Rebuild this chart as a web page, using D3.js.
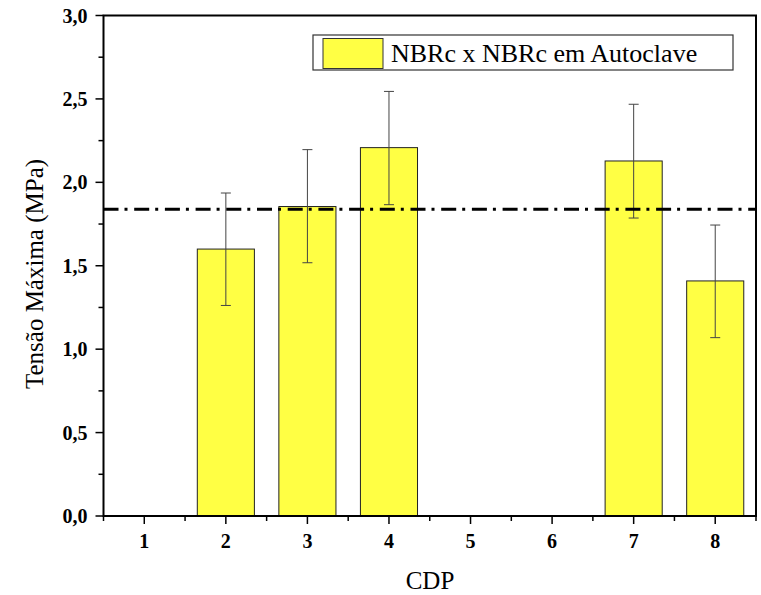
<!DOCTYPE html>
<html><head><meta charset="utf-8">
<script src="https://cdn.jsdelivr.net/npm/d3@7"></script>
<style>body{margin:0;background:#fff}svg{display:block}
text{font-family:"Times New Roman","Liberation Serif","DejaVu Serif",serif}</style>
</head><body>
<script>
const categories = [1,2,3,4,5,6,7,8];
const cdp = [2,3,4,7,8];
const values = [1.60,1.855,2.208,2.128,1.409];
const errLow = [1.262,1.518,1.866,1.786,1.069];
const errHigh = [1.936,2.196,2.545,2.468,1.744];
const refValue = 1.838;
const yTicks = [0,0.5,1.0,1.5,2.0,2.5,3.0];
const seriesName = "NBRc x NBRc em Autoclave";

const W=761,H=595;
const m={l:103.5,r:756,t:15.5,b:516};
const svg=d3.select("body").append("svg").attr("width",W).attr("height",H);
const x=d3.scaleLinear().domain([0.5,8.5]).range([m.l,m.r]);
const y=d3.scaleLinear().domain([0,3]).range([m.b,m.t]);
const bw = x(0.7)-x(0);

// bars
const g=svg.append("g");
cdp.forEach((c,i)=>{
  g.append("rect").attr("x",x(c)-bw/2).attr("y",y(values[i]))
   .attr("width",bw).attr("height",y(0)-y(values[i]))
   .attr("fill","#ffff44").attr("stroke","#222").attr("stroke-width",1);
});
// error bars
cdp.forEach((c,i)=>{
  const e=g.append("g").attr("stroke","#444").attr("stroke-width",1);
  e.append("line").attr("x1",x(c)).attr("x2",x(c)).attr("y1",y(errLow[i])).attr("y2",y(errHigh[i]));
  e.append("line").attr("x1",x(c)-5).attr("x2",x(c)+5).attr("y1",y(errLow[i])).attr("y2",y(errLow[i]));
  e.append("line").attr("x1",x(c)-5).attr("x2",x(c)+5).attr("y1",y(errHigh[i])).attr("y2",y(errHigh[i]));
});
// reference line
svg.append("line").attr("x1",m.l).attr("x2",m.r).attr("y1",y(refValue)).attr("y2",y(refValue))
  .attr("stroke","#000").attr("stroke-width",3).attr("stroke-dasharray","15,6,3,6.7");

// frame
svg.append("rect").attr("x",m.l).attr("y",m.t).attr("width",m.r-m.l).attr("height",m.b-m.t)
  .attr("fill","none").attr("stroke","#000").attr("stroke-width",2);

// y axis
const yMinor=d3.range(0.25,3,0.5);
const ya=svg.append("g");
yTicks.forEach(v=>{
  ya.append("line").attr("x1",m.l-8).attr("x2",m.l).attr("y1",y(v)).attr("y2",y(v)).attr("stroke","#000").attr("stroke-width",1.5);
  ya.append("text").attr("x",m.l-16).attr("y",y(v)).attr("dy","0.35em").attr("text-anchor","end")
    .attr("font-weight","bold").attr("font-size",20).text(d3.format(".1f")(v).replace(".",","));
});
yMinor.forEach(v=>{
  ya.append("line").attr("x1",m.l-5).attr("x2",m.l).attr("y1",y(v)).attr("y2",y(v)).attr("stroke","#000").attr("stroke-width",1.5);
});
// x axis
const xa=svg.append("g");
categories.forEach(c=>{
  xa.append("line").attr("x1",x(c)).attr("x2",x(c)).attr("y1",m.b).attr("y2",m.b+8).attr("stroke","#000").attr("stroke-width",1.5);
  xa.append("text").attr("x",x(c)).attr("y",548).attr("text-anchor","middle")
    .attr("font-weight","bold").attr("font-size",20).text(c);
});
d3.range(0.5,9,1).forEach(c=>{
  xa.append("line").attr("x1",x(c)).attr("x2",x(c)).attr("y1",m.b).attr("y2",m.b+5).attr("stroke","#000").attr("stroke-width",1.5);
});

// titles
svg.append("text").attr("x",430).attr("y",589).attr("text-anchor","middle")
  .attr("font-size",25).text("CDP");
svg.append("text").attr("transform","translate(43,274) rotate(-90)").attr("text-anchor","middle")
  .attr("font-size",25).text("Tensão Máxima (MPa)");

// legend
svg.append("rect").attr("x",313).attr("y",35).attr("width",420).attr("height",35)
  .attr("fill","#fff").attr("stroke","#333").attr("stroke-width",1.2);
svg.append("rect").attr("x",323).attr("y",38.5).attr("width",60).attr("height",30)
  .attr("fill","#ffff44").attr("stroke","#333").attr("stroke-width",1);
svg.append("text").attr("x",391).attr("y",62).attr("font-size",26)
  .text(seriesName);
</script>
</body></html>
